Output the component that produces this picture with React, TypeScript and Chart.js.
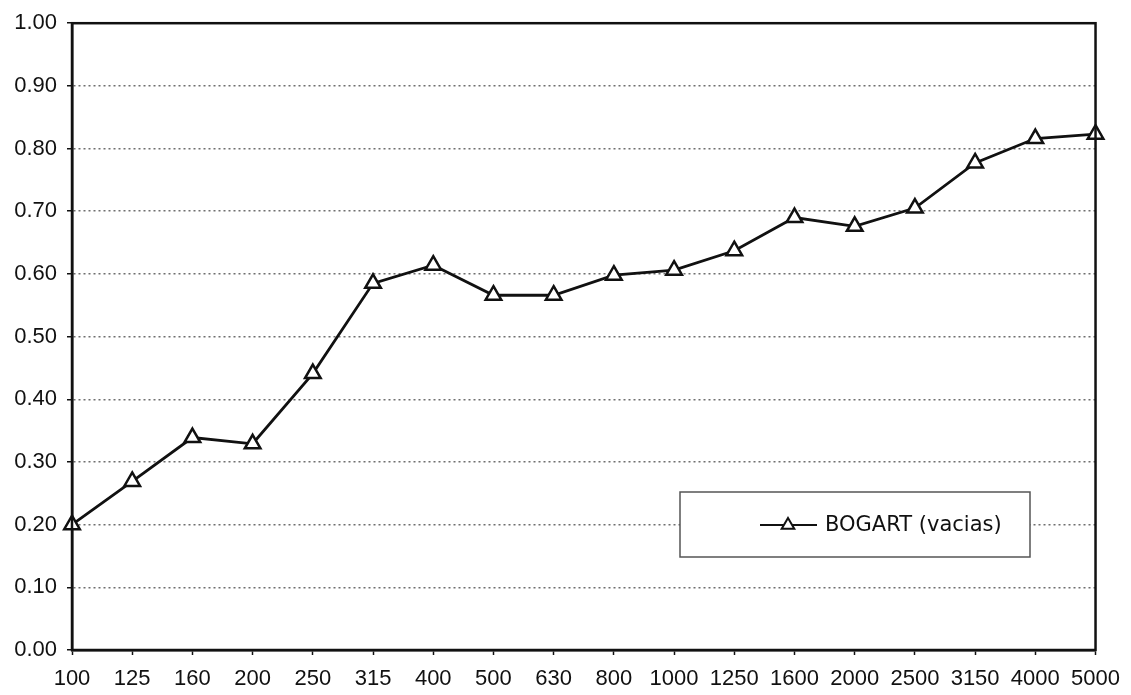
import React, { useEffect, useRef } from "react";
import { Chart, registerables } from "chart.js";

Chart.register(...registerables);

const categories: string[] = [
  "100", "125", "160", "200", "250", "315", "400", "500", "630",
  "800", "1000", "1250", "1600", "2000", "2500", "3150", "4000", "5000",
];

const bogartValues: number[] = [
  0.2, 0.269, 0.339, 0.329, 0.441, 0.585, 0.614, 0.566, 0.566,
  0.598, 0.606, 0.637, 0.69, 0.676, 0.705, 0.777, 0.816, 0.823,
];

const seriesLabel = "BOGART (vacias)";
const yMin = 0;
const yMax = 1;
const yStep = 0.1;

const framePlugin = {
  id: "frame",
  afterDraw(chart: any) {
    const { ctx, chartArea } = chart;
    ctx.save();
    ctx.setLineDash([]);
    ctx.strokeStyle = "#111";
    ctx.lineWidth = 2.5;
    ctx.strokeRect(chartArea.left, chartArea.top, chartArea.right - chartArea.left, chartArea.bottom - chartArea.top);
    ctx.restore();
  },
};

const legendBoxPlugin = {
  id: "legendBox",
  afterDraw(chart: any) {
    const { ctx } = chart;
    const ds = chart.data.datasets[0];
    const bx = 680, by = 492, bw = 350, bh = 65;
    ctx.save();
    ctx.setLineDash([]);
    ctx.fillStyle = "#ffffff";
    ctx.fillRect(bx, by, bw, bh);
    ctx.strokeStyle = "#555";
    ctx.lineWidth = 1.5;
    ctx.strokeRect(bx, by, bw, bh);
    const cy = by + 33;
    ctx.strokeStyle = "#111";
    ctx.lineWidth = 2;
    ctx.beginPath();
    ctx.moveTo(760, cy);
    ctx.lineTo(817, cy);
    ctx.stroke();
    const r = 7;
    const cx = 788;
    ctx.beginPath();
    ctx.moveTo(cx, cy - r);
    ctx.lineTo(cx + r * 0.9, cy + r * 0.55);
    ctx.lineTo(cx - r * 0.9, cy + r * 0.55);
    ctx.closePath();
    ctx.fillStyle = "#fff";
    ctx.fill();
    ctx.stroke();
    ctx.fillStyle = "#111";
    ctx.font = "21px 'DejaVu Sans', sans-serif";
    ctx.textBaseline = "middle";
    ctx.textAlign = "left";
    ctx.fillText(ds.label, 825, cy + 1);
    ctx.restore();
  },
};

export default function App() {
  const canvasRef = useRef<HTMLCanvasElement | null>(null);

  useEffect(() => {
    if (!canvasRef.current) return;
    const chart = new Chart(canvasRef.current, {
      type: "line",
      data: {
        labels: categories,
        datasets: [
          {
            label: seriesLabel,
            data: bogartValues,
            borderColor: "#111",
            borderWidth: 2.8,
            pointStyle: "triangle",
            pointRadius: 9,
            pointBackgroundColor: "#fff",
            pointBorderColor: "#111",
            pointBorderWidth: 2.5,
            tension: 0,
            fill: false,
          },
        ],
      },
      options: {
        animation: false,
        responsive: true,
        maintainAspectRatio: false,
        layout: { padding: { top: 19, right: 35, left: 0, bottom: 0 } },
        plugins: {
          legend: { display: false },
          tooltip: { enabled: false },
          title: { display: false },
        },
        scales: {
          x: {
            type: "category",
            offset: false,
            grid: {
              drawOnChartArea: false,
              drawTicks: true,
              tickLength: 5,
              tickColor: "#111",
              tickWidth: 1.5,
            },
            border: { color: "#111", width: 2.5 },
            ticks: {
              color: "#111",
              font: { family: "'Liberation Sans', Arial, sans-serif", size: 22 },
              padding: 11,
              maxRotation: 0,
              autoSkip: false,
            },
            afterFit(scale: any) {
              scale.height = 45;
            },
          },
          y: {
            min: yMin,
            max: yMax,
            grid: {
              color: "#6f6f6f",
              lineWidth: 1.5,
              tickLength: 5,
              tickColor: "#111",
              tickWidth: 1.5,
              tickBorderDash: [],
            },
            border: { color: "#111", width: 2.5, dash: [2, 3] },
            ticks: {
              stepSize: yStep,
              color: "#111",
              font: { family: "'Liberation Sans', Arial, sans-serif", size: 22 },
              padding: 10,
              callback: (v: any) => Number(v).toFixed(2),
            },
            afterFit(scale: any) {
              scale.width = 72;
            },
          },
        },
      },
      plugins: [framePlugin, legendBoxPlugin],
    });
    return () => chart.destroy();
  }, []);

  return (
    <div style={{ position: "fixed", left: 0, top: 0, width: 1131, height: 695, background: "#fff" }}>
      <canvas ref={canvasRef} />
    </div>
  );
}
